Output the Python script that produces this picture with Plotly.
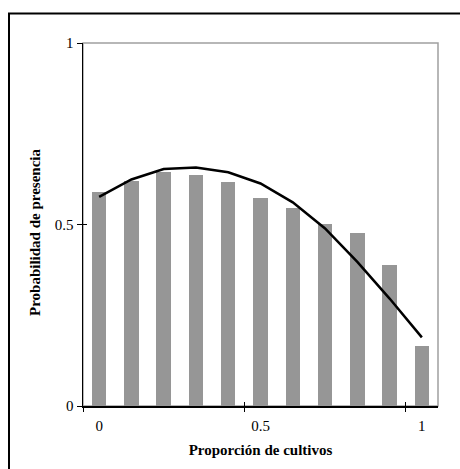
import plotly.graph_objects as go

# Data
proporcion = [0.0, 0.1, 0.2, 0.3, 0.4, 0.5, 0.6, 0.7, 0.8, 0.9, 1.0]
observado = [0.589, 0.620, 0.644, 0.637, 0.617, 0.573, 0.545, 0.501, 0.476, 0.388, 0.165]
modelo = [0.576, 0.624, 0.653, 0.657, 0.644, 0.613, 0.561, 0.489, 0.397, 0.296, 0.189]
x_tick_vals = [0, 0.5, 1]
x_tick_text = ["0", "0.5", "1"]
x_mark_vals = [-0.05, 0.45, 0.95]
y_tick_vals = [0, 0.5, 1]
y_tick_text = ["0", "0.5", "1"]
x_title = "Proporción de cultivos"
y_title = "Probabilidad de presencia"

W, H = 460, 469
L, R, T, B = 83, 22, 43, 63
pw, ph = W - L - R, H - T - B

font_family = "Liberation Serif, Times New Roman, serif"

fig = go.Figure()
fig.add_trace(go.Bar(x=proporcion, y=observado, width=0.045,
                     marker=dict(color="#969696", line=dict(width=0)),
                     showlegend=False))
fig.add_trace(go.Scatter(x=proporcion, y=modelo, mode="lines",
                         line=dict(color="black", width=2.5),
                         showlegend=False))

axis_common = dict(range=[-0.05, 1.05], fixedrange=True, showgrid=False, zeroline=False)


def px_to_paper_x(px):
    return (px - L) / pw


def px_to_paper_y(py):
    return (H - B - py) / ph


fig.update_layout(
    width=W, height=H,
    margin=dict(l=L, r=R, t=T, b=B, autoexpand=False),
    paper_bgcolor="white", plot_bgcolor="white",
    font=dict(family=font_family, size=15, color="black"),
    bargap=0,
    xaxis=dict(**axis_common, tickmode="array", tickvals=x_tick_vals, ticktext=x_tick_text,
               ticks="outside", ticklen=5, tickcolor="rgba(0,0,0,0)",
               showline=True, linecolor="black", linewidth=1.5,
               title=dict(text="<b>" + x_title + "</b>", standoff=12,
                          font=dict(size=15))),
    xaxis2=dict(**axis_common, overlaying="x", anchor="y", side="bottom",
                tickmode="array", tickvals=x_mark_vals, showticklabels=False,
                ticks="outside", ticklen=5, tickcolor="black", tickwidth=1, showline=False),
    xaxis3=dict(**axis_common, overlaying="x", anchor="y", side="bottom",
                tickmode="array", tickvals=x_mark_vals, showticklabels=False,
                ticks="inside", ticklen=4, tickcolor="black", tickwidth=1, showline=False),
    yaxis=dict(range=[0, 1], fixedrange=True, showgrid=False, zeroline=False,
               tickmode="array", tickvals=y_tick_vals, ticktext=y_tick_text,
               ticks="outside", ticklen=5, tickcolor="black", tickwidth=1,
               showline=True, linecolor="black", linewidth=1.5),
    yaxis2=dict(range=[0, 1], fixedrange=True, showgrid=False, zeroline=False,
                overlaying="y", anchor="x", side="left",
                tickmode="array", tickvals=y_tick_vals, showticklabels=False,
                ticks="inside", ticklen=4, tickcolor="black", tickwidth=1, showline=False),
)

fig.add_annotation(text="<b>" + y_title + "</b>", textangle=-90,
                   xref="paper", yref="paper",
                   x=px_to_paper_x(35), y=px_to_paper_y(233),
                   xanchor="center", yanchor="middle", showarrow=False,
                   font=dict(size=15, family=font_family, color="black"))

# invisible traces to activate overlay axes
fig.add_trace(go.Scatter(x=[None], y=[None], xaxis="x2", yaxis="y", showlegend=False, hoverinfo="skip"))
fig.add_trace(go.Scatter(x=[None], y=[None], xaxis="x3", yaxis="y2", showlegend=False, hoverinfo="skip"))

# plot area grey frame (top/right)
fig.add_shape(type="rect", xref="paper", yref="paper", x0=0, x1=1, y0=0, y1=1,
              line=dict(color="#a0a0a0", width=1.5), layer="below")

# outer chart border (extends past the right/bottom edges)
fig.add_shape(type="rect", xref="paper", yref="paper",
              x0=px_to_paper_x(9), x1=px_to_paper_x(480),
              y0=px_to_paper_y(490), y1=px_to_paper_y(13.5),
              line=dict(color="black", width=2), layer="above")

fig.write_html("out.html", config={"displayModeBar": False, "staticPlot": True},
               post_script="document.body.style.margin='0';document.body.style.overflow='hidden';")
